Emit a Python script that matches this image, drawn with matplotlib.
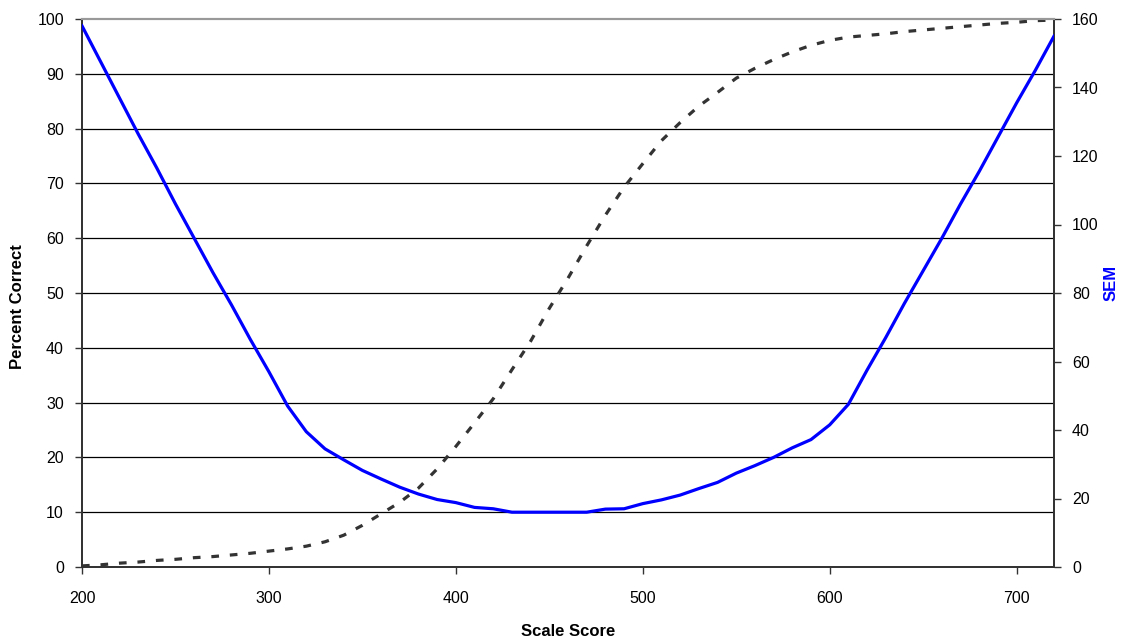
import matplotlib
matplotlib.use("Agg")
import matplotlib.pyplot as plt

# scale score grid (read every 10 points off the reference)
scale_score = list(range(200, 721, 10))

# dashed curve, left axis
percent_correct = [
    0.2, 0.4, 0.7, 0.9, 1.2, 1.4, 1.7, 1.9, 2.2, 2.5,
    2.9, 3.3, 3.8, 4.6, 5.8, 7.6, 9.7, 11.8, 14.4, 17.9,
    22.0, 26.3, 30.7, 36.0, 41.2, 47.2, 52.7, 58.6, 64.2, 69.3,
    73.6, 77.8, 81.1, 84.1, 86.6, 89.2, 91.0, 92.6, 94.0, 95.2,
    96.1, 96.7, 97.0, 97.3, 97.7, 98.0, 98.3, 98.6, 98.9, 99.2,
    99.4, 99.7, 99.8,
]

# solid blue curve, right axis
sem = [
    158, 147.5, 137, 126.5, 116.5, 106, 96, 86, 76.5, 66.5,
    57, 47, 39.5, 34.5, 31.3, 28.2, 25.7, 23.3, 21.3, 19.7,
    18.8, 17.4, 17.0, 16.0, 16.0, 16.0, 16.0, 16.0, 16.9, 17.0,
    18.5, 19.6, 21.0, 22.9, 24.7, 27.4, 29.6, 32.0, 34.8, 37.2,
    41.5, 47.5, 57.5, 67, 77, 86.5, 96, 106, 115.5, 125.5,
    135.5, 145, 155,
]

x_ticks = [200, 300, 400, 500, 600, 700]
left_ticks = list(range(0, 101, 10))
right_ticks = list(range(0, 161, 20))

plt.rcParams["font.family"] = ["Liberation Sans", "DejaVu Sans"]

fig = plt.figure(figsize=(11.25, 6.44), dpi=100)
ax = fig.add_axes([82 / 1125, 1 - 567 / 644, (1054 - 82) / 1125, (567 - 19) / 644])
ax2 = ax.twinx()

# horizontal grid lines on the left scale
for v in left_ticks[1:-1]:
    ax.axhline(v, color="black", lw=0.9, zorder=1)

ax.plot(scale_score, percent_correct, color="#333333", lw=2.3,
        linestyle=(0, (2.4, 3.4)), zorder=3)
ax2.plot(scale_score, sem, color="#0000ff", lw=2.3, zorder=3)

ax.set_xlim(200, 720)
ax.set_ylim(0, 100)
ax2.set_ylim(0, 160)
ax.set_xticks(x_ticks)
ax.set_yticks(left_ticks)
ax2.set_yticks(right_ticks)

for a in (ax, ax2):
    a.tick_params(labelsize=11.5, length=5, width=1, color="#333333",
                  labelcolor="black")
    a.spines["top"].set_color("#999999")
    a.spines["top"].set_linewidth(1.5)
    a.spines["left"].set_color("#333333")
    a.spines["right"].set_color("#333333")
    a.spines["bottom"].set_color("#333333")
    for s in ("left", "right", "bottom"):
        a.spines[s].set_linewidth(1.3)
ax.tick_params(axis="x", pad=12)
ax.tick_params(axis="y", pad=8)
ax2.tick_params(axis="y", pad=8)

ax.set_xlabel("Scale Score", fontsize=12, fontweight="bold", va="center")
ax.xaxis.set_label_coords(0.5, -0.117)
ax.set_ylabel("Percent Correct", fontsize=12, fontweight="bold", va="center")
ax.yaxis.set_label_coords(-0.066, 0.476)
ax2.set_ylabel("SEM", fontsize=12, fontweight="bold", color="#0000ff", va="center")
ax2.yaxis.set_label_coords(1.059, 0.518)

fig.savefig("out.png", dpi=100)
